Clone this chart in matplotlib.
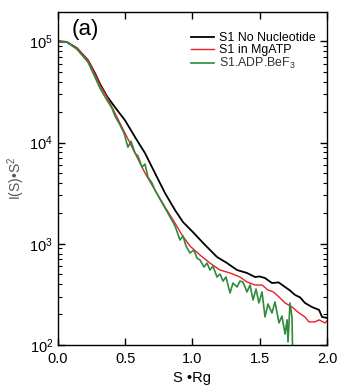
import matplotlib
matplotlib.use("Agg")
import matplotlib.pyplot as plt
from matplotlib.ticker import LogLocator, NullFormatter

plt.rcParams['font.family'] = ['Liberation Sans', 'DejaVu Sans']
plt.rcParams['mathtext.fontset'] = 'custom'
plt.rcParams['mathtext.rm'] = 'Liberation Sans'
plt.rcParams['mathtext.it'] = 'Liberation Sans:italic'

# ---- data ----
x_black = [0.000, 0.067, 0.141, 0.223, 0.275, 0.312, 0.364, 0.424, 0.498, 0.573,
           0.647, 0.721, 0.796, 0.870, 0.929, 1.004, 1.078, 1.182, 1.257, 1.331,
           1.405, 1.465, 1.500, 1.539, 1.591, 1.640, 1.688, 1.725, 1.762, 1.800,
           1.836, 1.888, 1.941, 1.963, 2.000]
y_black = [1.00e5, 9.8e4, 8.55e4, 6.5e4, 4.84e4, 3.80e4, 2.87e4, 2.23e4, 1.66e4, 1.13e4,
           7.85e3, 4.99e3, 3.16e3, 2.15e3, 1.64e3, 1.30e3, 1.02e3, 7.4e2, 6.44e2, 5.5e2,
           5.14e2, 4.69e2, 4.75e2, 4.58e2, 4.09e2, 4.15e2, 3.74e2, 3.45e2, 3.12e2, 2.95e2,
           2.60e2, 2.37e2, 2.22e2, 1.89e2, 1.85e2]

x_red = [0.000, 0.067, 0.141, 0.223, 0.275, 0.312, 0.364, 0.424, 0.498, 0.573,
         0.647, 0.721, 0.796, 0.870, 0.922, 0.981, 1.056, 1.130, 1.204, 1.279,
         1.353, 1.405, 1.465, 1.517, 1.561, 1.600, 1.643, 1.688, 1.740, 1.792,
         1.836, 1.866, 1.911, 1.941, 1.985, 2.000]
y_red = [1.00e5, 9.8e4, 8.55e4, 6.5e4, 4.73e4, 3.70e4, 2.81e4, 1.95e4, 1.24e4, 7.85e3,
         4.99e3, 3.39e3, 2.30e3, 1.60e3, 1.22e3, 9.5e2, 7.73e2, 6.44e2, 5.5e2, 5.14e2,
         4.69e2, 4.19e2, 3.91e2, 3.91e2, 3.49e2, 3.35e2, 2.98e2, 2.60e2, 2.37e2, 2.07e2,
         1.89e2, 1.69e2, 1.69e2, 1.77e2, 1.65e2, 1.73e2]

x_green = [0.000, 0.067, 0.141, 0.223, 0.275, 0.312, 0.364, 0.401, 0.424, 0.461,
           0.491, 0.520, 0.543, 0.573, 0.595, 0.625, 0.647, 0.669, 0.699, 0.721,
           0.758, 0.796, 0.833, 0.870, 0.907, 0.929, 0.952, 0.981, 1.011, 1.033,
           1.056, 1.086, 1.108, 1.130, 1.152, 1.182, 1.204, 1.227, 1.249, 1.279,
           1.301, 1.331, 1.353, 1.375, 1.405, 1.428, 1.450, 1.472, 1.494, 1.517,
           1.539, 1.561, 1.591, 1.613, 1.643, 1.665, 1.688, 1.703, 1.710, 1.725,
           1.740, 1.747]
y_green = [1.00e5, 9.8e4, 8.36e4, 6.22e4, 4.43e4, 3.45e4, 2.62e4, 2.19e4, 1.82e4, 1.49e4,
           1.24e4, 9.0e3, 1.03e4, 7.85e3, 7.34e3, 5.71e3, 6.12e3, 4.55e3, 3.97e3, 3.39e3,
           2.76e3, 2.25e3, 1.84e3, 1.50e3, 1.09e3, 1.19e3, 9.5e2, 8.1e2, 8.67e2, 7.23e2,
           6.9e2, 5.89e2, 6.44e2, 5.5e2, 6.02e2, 4.69e2, 5.02e2, 4.28e2, 4.69e2, 3.26e2,
           4.09e2, 3.74e2, 4.28e2, 4.19e2, 3.34e2, 3.91e2, 2.78e2, 3.57e2, 2.60e2, 3.34e2,
           1.89e2, 2.54e2, 2.07e2, 2.66e2, 1.65e2, 1.93e2, 1.28e2, 1.77e2, 1.07e2, 2.60e2,
           1.85e2, 5.0e1]

labels = ["S1 No Nucleotide", "S1 in MgATP", "S1.ADP.BeF$_3$"]
x_ticks = [0.0, 0.5, 1.0, 1.5, 2.0]
x_ticklabels = ["0.0", "0.5", "1.0", "1.5", "2.0"]

# ---- figure ----
fig = plt.figure(figsize=(3.41, 3.92), dpi=100)
ax = fig.add_axes([0.170, 0.120, 0.789, 0.849])

ax.plot(x_black, y_black, color='black', lw=1.3, label=labels[0])
ax.plot(x_red, y_red, color='#e8202a', lw=1.0, label=labels[1])
ax.plot(x_green, y_green, color='#2f8a3c', lw=1.2, label=labels[2])

ax.set_yscale('log')
ax.set_xlim(0, 2.0)
ax.set_ylim(100, 1.94e5)
ax.set_xticks(x_ticks)
ax.set_xticklabels(x_ticklabels)
ax.yaxis.set_major_locator(LogLocator(base=10, numticks=10))
ax.yaxis.set_minor_locator(LogLocator(base=10, subs=range(2, 10), numticks=20))
ax.yaxis.set_minor_formatter(NullFormatter())

ax.tick_params(which='both', direction='in', top=True, right=True, labelsize=10.5)
ax.tick_params(axis='x', pad=5)
ax.tick_params(which='major', length=5, width=1)
ax.tick_params(which='minor', length=3, width=0.8)
for s in ax.spines.values():
    s.set_linewidth(1.0)

ax.set_xlabel("S •Rg", fontsize=10.5, labelpad=4)
ax.set_ylabel("I(S)•S$^2$", fontsize=10, color='#555555', labelpad=2)

ax.text(0.05, 0.98, "(a)", transform=ax.transAxes, fontsize=16, va='top', ha='left')

leg = ax.legend(loc='upper right', bbox_to_anchor=(0.975, 0.955), frameon=False,
                fontsize=8.9, handlelength=1.8, handletextpad=0.4, labelspacing=0.0,
                borderaxespad=0.0)
for t in leg.get_texts()[2:]:
    t.set_color('#333333')

fig.savefig("out.png", dpi=100)
